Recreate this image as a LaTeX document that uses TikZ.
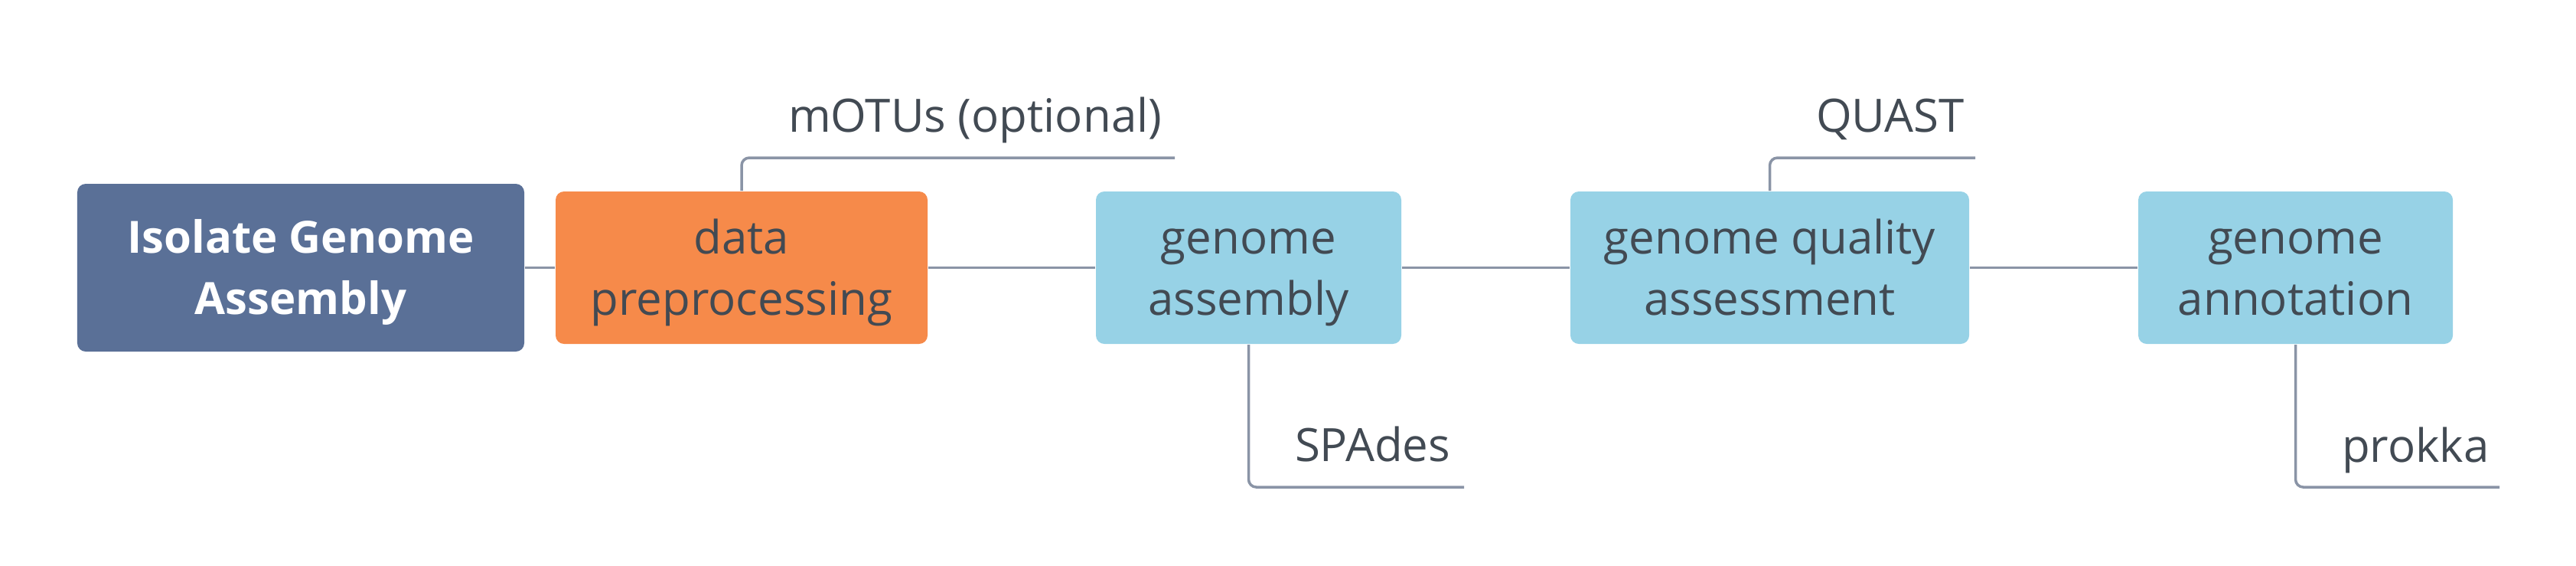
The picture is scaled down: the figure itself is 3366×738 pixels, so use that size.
\documentclass[tikz,border=0pt]{standalone}
\usepackage{fontspec}
\setmainfont{Open Sans}
\definecolor{rootc}{HTML}{5A7097}
\definecolor{orangec}{HTML}{F68A4A}
\definecolor{bluec}{HTML}{97D2E6}
\definecolor{txtc}{HTML}{424A53}
\definecolor{linec}{HTML}{8A94A6}
\newcommand\lnstrut{\rule[-0.25em]{0pt}{1.22em}}
\begin{document}
\begin{tikzpicture}[x=0.2pt,y=-0.2pt,
  box/.style={rounded corners=2.2pt, minimum height=39.8pt, inner sep=0pt, align=center,
    font=\fontsize{12}{16}\selectfont, text=txtc},
  lbl/.style={anchor=base west, inner sep=0pt, font=\fontsize{12}{16}\selectfont, text=txtc},
  conn/.style={draw=linec, line width=0.7pt},
  branch/.style={draw=linec, line width=0.7pt, rounded corners=2pt}]
\useasboundingbox (0,0) rectangle (3366,738);
\node[box, fill=rootc, text=white, minimum width=116.8pt, minimum height=43.8pt,
  font=\fontsize{11.6}{16}\selectfont\bfseries] (root) at (393,349.5) {\lnstrut Isolate Genome\\\lnstrut Assembly};
\node[box, fill=orangec, minimum width=97.2pt] (data) at (969,349.5) {\lnstrut data\\\lnstrut preprocessing};
\node[box, fill=bluec, minimum width=79.8pt] (asm) at (1631.5,349.5) {\lnstrut genome\\\lnstrut assembly};
\node[box, fill=bluec, minimum width=104.2pt] (qual) at (2312.5,349.5) {\lnstrut genome quality\\\lnstrut assessment};
\node[box, fill=bluec, minimum width=82.2pt] (ann) at (2999.5,349.5) {\lnstrut genome\\\lnstrut annotation};
\draw[conn] (root.east) -- (data.west);
\draw[conn] (data.east) -- (asm.west);
\draw[conn] (asm.east) -- (qual.west);
\draw[conn] (qual.east) -- (ann.west);
\coordinate (m1) at (1535,206);
\coordinate (q1) at (2581,206);
\coordinate (s1) at (1913,636);
\coordinate (p1) at (3266,636);
\draw[branch] (data.north) |- (m1);
\draw[branch] (qual.north) |- (q1);
\draw[branch] (asm.south) |- (s1);
\draw[branch] (ann.south) |- (p1);
\node[lbl] (motus) at (1029,172) {mOTUs (optional)};
\node[lbl] (quast) at (2372,172) {QUAST};
\node[lbl] (spades) at (1691,602) {SPAdes};
\node[lbl] (prokka) at (3059,603) {prokka};
\end{tikzpicture}
\end{document}
